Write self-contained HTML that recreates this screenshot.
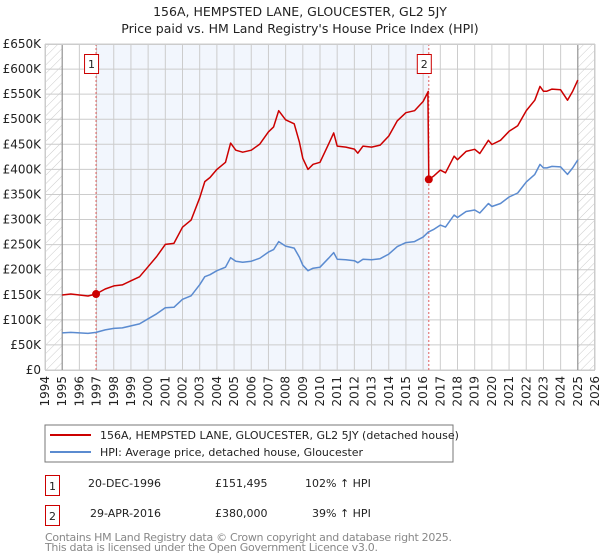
<!DOCTYPE html>
<html><head><meta charset="utf-8"><style>
body{margin:0;background:#fff;}
svg{display:block;font-family:"DejaVu Sans","Liberation Sans",sans-serif;}
</style></head><body>
<svg id="c" width="600" height="560" viewBox="0 0 600 560">
<defs>
<pattern id="hatch" width="6" height="6" patternUnits="userSpaceOnUse" patternTransform="rotate(45)">
<line x1="0" y1="0" x2="0" y2="6" stroke="#ccc" stroke-width="1"/>
</pattern>
</defs>
<text x="300" y="16" text-anchor="middle" font-size="12.5" fill="#222">156A, HEMPSTED LANE, GLOUCESTER, GL2 5JY</text>
<text x="300" y="33" text-anchor="middle" font-size="12.5" fill="#222">Price paid vs. HM Land Registry's House Price Index (HPI)</text>
<g id="plot"></g>
<g>
<rect x="45" y="425" width="408" height="37" fill="#fff" stroke="#777"/>
<line x1="50" y1="435" x2="91" y2="435" stroke="#cc0000" stroke-width="2"/>
<text x="100" y="439" font-size="11" fill="#222">156A, HEMPSTED LANE, GLOUCESTER, GL2 5JY (detached house)</text>
<line x1="50" y1="452" x2="91" y2="452" stroke="#5b8bd0" stroke-width="2"/>
<text x="100" y="456" font-size="11" fill="#222">HPI: Average price, detached house, Gloucester</text>
</g>
<g>
<rect x="45.5" y="475.5" width="14" height="20" fill="#fff" stroke="#cc0000"/>
<text x="52.5" y="490" text-anchor="middle" font-size="11" fill="#222">1</text>
<text x="88" y="487" font-size="11" fill="#222">20-DEC-1996</text>
<text x="215" y="487" font-size="11" fill="#222">£151,495</text>
<text x="305" y="487" font-size="11" fill="#222">102% ↑ HPI</text>
<rect x="45.5" y="505.5" width="14" height="20" fill="#fff" stroke="#cc0000"/>
<text x="52.5" y="520" text-anchor="middle" font-size="11" fill="#222">2</text>
<text x="90" y="517" font-size="11" fill="#222">29-APR-2016</text>
<text x="215" y="517" font-size="11" fill="#222">£380,000</text>
<text x="312" y="517" font-size="11" fill="#222">39% ↑ HPI</text>
</g>
<text x="45" y="541" font-size="11" fill="#888" textLength="407">Contains HM Land Registry data © Crown copyright and database right 2025.</text>
<text x="45" y="551" font-size="11" fill="#888" textLength="333">This data is licensed under the Open Government Licence v3.0.</text>
</svg>
<script>
const hpiTimes=[1995,1995.5,1996,1996.5,1996.97,1997.5,1998,1998.5,1999,1999.5,2000,2000.5,2001,2001.5,2002,2002.5,2003,2003.3,2003.6,2004,2004.5,2004.8,2005.1,2005.5,2006,2006.5,2007,2007.3,2007.6,2008,2008.5,2008.8,2009,2009.3,2009.6,2010,2010.5,2010.8,2011,2011.5,2012,2012.2,2012.5,2013,2013.5,2014,2014.5,2015,2015.5,2016,2016.3,2016.6,2017,2017.3,2017.8,2018,2018.5,2019,2019.3,2019.8,2020,2020.5,2021,2021.5,2022,2022.5,2022.8,2023,2023.2,2023.5,2024,2024.4,2024.7,2025];
const hpiValues=[74,75,74,73,75,80,83,84,88,92,102,112,124,125,141,148,170,186,190,198,205,224,217,215,217,223,235,240,256,247,243,225,209,198,203,205,223,234,221,220,218,214,221,220,222,231,246,254,256,265,275,280,289,285,309,304,316,319,313,332,326,332,345,353,375,390,410,403,403,406,405,390,403,419];
const saleTimes=[1996.97,2016.33];
const salePrices=[151495,380000];
const yTicks=[0,50,100,150,200,250,300,350,400,450,500,550,600,650];
const yTickLabels=["£0","£50K","£100K","£150K","£200K","£250K","£300K","£350K","£400K","£450K","£500K","£550K","£600K","£650K"];
const years=[1994,1995,1996,1997,1998,1999,2000,2001,2002,2003,2004,2005,2006,2007,2008,2009,2010,2011,2012,2013,2014,2015,2016,2017,2018,2019,2020,2021,2022,2023,2024,2025,2026];

const X0=45,X1=595,Y0=370,Y1=44;
const xs=t=>X0+(t-1994)*(X1-X0)/32;
const ys=v=>Y0-v*(Y0-Y1)/650;
const NS='http://www.w3.org/2000/svg';
const g=document.getElementById('plot');
function mk(tag,attrs,parent){const e=document.createElementNS(NS,tag);for(const k in attrs)e.setAttribute(k,attrs[k]);(parent||g).appendChild(e);return e;}
function hpiAt(t){for(let i=1;i<hpiTimes.length;i++){if(t<=hpiTimes[i]){const f=(t-hpiTimes[i-1])/(hpiTimes[i]-hpiTimes[i-1]);return hpiValues[i-1]+f*(hpiValues[i]-hpiValues[i-1]);}}return hpiValues[hpiValues.length-1];}

// backgrounds
let e=mk('rect',{x:xs(saleTimes[0]),y:Y1,width:xs(saleTimes[1])-xs(saleTimes[0]),height:Y0-Y1,fill:'#f2f6fd'});


e=mk('rect',{x:X0,y:Y1,width:xs(1995)-X0,height:Y0-Y1,fill:'url(#hatch)'});


e=mk('rect',{x:xs(2025),y:Y1,width:X1-xs(2025),height:Y0-Y1,fill:'url(#hatch)'});


// grid
yTicks.forEach((v,i)=>{
  const l=mk('line',{x1:X0,x2:X1,y1:ys(v),y2:ys(v),stroke:'#cccccc','stroke-width':1});
  
  
  const t=mk('text',{x:X0-4,y:ys(v)+4,'text-anchor':'end','font-size':12,fill:'#222'});
  
  
  t.textContent=yTickLabels[i];
});
years.forEach(yr=>{
  const l=mk('line',{x1:xs(yr),x2:xs(yr),y1:Y1,y2:Y0,stroke:'#cccccc','stroke-width':1});
  
  
  const t=mk('text',{x:0,y:0,'text-anchor':'end','font-size':12,fill:'#222',transform:`translate(${xs(yr)+4},${Y0+6}) rotate(-90)`});
  
  
  t.textContent=yr;
});
e=mk('line',{x1:xs(1995),x2:xs(1995),y1:Y1,y2:Y0,stroke:'#888','stroke-width':1});


e=mk('line',{x1:xs(2025),x2:xs(2025),y1:Y1,y2:Y0,stroke:'#888','stroke-width':1});


// sale markers
saleTimes.forEach((st,i)=>{
  const l=mk('line',{x1:xs(st),x2:xs(st),y1:Y1,y2:Y0,stroke:'#e06060','stroke-width':1,'stroke-dasharray':'2,2'});
  
  
  const r=mk('rect',{x:xs(st)-11.5,y:54.5,width:14,height:19,fill:'#fff',stroke:'#cc0000'});
  
  
  const t=mk('text',{x:xs(st)-4.5,y:68,'text-anchor':'middle','font-size':11,fill:'#222'});
  
  
  t.textContent=String(i+1);
});
// HPI line
let d='';
hpiTimes.forEach((t,i)=>{d+=(i?'L':'M')+xs(t).toFixed(1)+','+ys(hpiValues[i]).toFixed(1);});
e=mk('path',{d:d,fill:'none',stroke:'#5b8bd0','stroke-width':1.5,'stroke-linejoin':'round'});


// property line: HPI scaled by sale factors
const f1=salePrices[0]/1000/hpiAt(saleTimes[0]);
const f2=salePrices[1]/1000/hpiAt(saleTimes[1]);
let pd='';
hpiTimes.forEach((t,i)=>{
  if(t<saleTimes[1]) pd+=(pd?'L':'M')+xs(t).toFixed(1)+','+ys(hpiValues[i]*f1).toFixed(1);
});
pd+='L'+xs(saleTimes[1]-0.05).toFixed(1)+','+ys(hpiAt(saleTimes[1]-0.05)*f1).toFixed(1);
pd+='L'+xs(saleTimes[1]).toFixed(1)+','+ys(salePrices[1]/1000).toFixed(1);
hpiTimes.forEach((t,i)=>{
  if(t>saleTimes[1]) pd+='L'+xs(t).toFixed(1)+','+ys(hpiValues[i]*f2).toFixed(1);
});
e=mk('path',{d:pd,fill:'none',stroke:'#cc0000','stroke-width':1.5,'stroke-linejoin':'round'});


saleTimes.forEach((st,i)=>{
  const c=mk('circle',{cx:xs(st),cy:ys(salePrices[i]/1000),r:4,fill:'#cc0000'});
  
  
});
e=mk('rect',{x:X0+0.5,y:Y1+0.5,width:X1-X0-1,height:Y0-Y1,fill:'none',stroke:'#cccccc'});


</script>
</body></html>
